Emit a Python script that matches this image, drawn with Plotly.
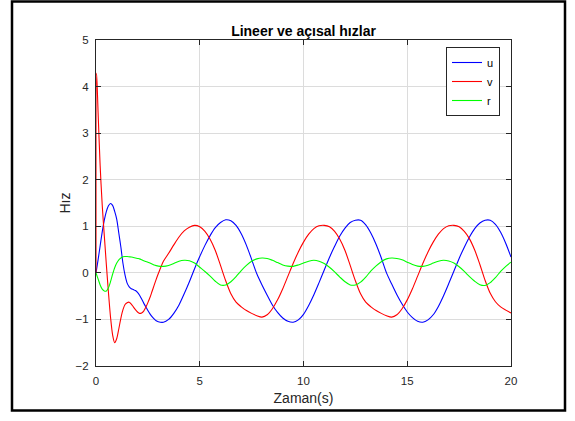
import plotly.graph_objects as go

# Simulation time (s)
time_s = [
    0, 0.03, 0.1, 0.2, 0.3, 0.4, 0.5, 0.6, 0.7, 0.8, 0.9, 1.0, 1.1, 1.2, 1.3, 1.4,
    1.5, 1.6, 1.7, 1.8, 1.9, 2.0, 2.1, 2.2, 2.3, 2.4, 2.5, 2.6, 2.7, 2.8, 2.9, 3.0,
    3.25, 3.5, 3.75, 4.0, 4.25, 4.5, 4.75, 5.0, 5.25, 5.5, 5.75, 6.0, 6.25, 6.5,
    6.75, 7.0, 7.25, 7.5, 7.75, 8.0, 8.25, 8.5, 8.75, 9.0, 9.25, 9.5, 9.75, 10.0,
    10.25, 10.5, 10.75, 11.0, 11.25, 11.5, 11.75, 12.0, 12.25, 12.5, 12.75, 13.0,
    13.25, 13.5, 13.75, 14.0, 14.25, 14.5, 14.75, 15.0, 15.25, 15.5, 15.75, 16.0,
    16.25, 16.5, 16.75, 17.0, 17.25, 17.5, 17.75, 18.0, 18.25, 18.5, 18.75, 19.0,
    19.25, 19.5, 19.75, 20.0,
]

# Surge velocity u
u_vals = [
    0, 0.08, 0.28, 0.58, 0.88, 1.13, 1.32, 1.44, 1.49, 1.45, 1.32, 1.15, 0.85, 0.55,
    0.20, -0.05, -0.22, -0.30, -0.34, -0.36, -0.38, -0.42, -0.48, -0.56, -0.65,
    -0.73, -0.81, -0.88, -0.94, -0.99, -1.03, -1.05,
    -1.06, -1.00, -0.87, -0.69, -0.45, -0.19, 0.09, 0.35, 0.59, 0.80, 0.97, 1.08,
    1.14, 1.12, 1.02, 0.84, 0.59, 0.29, -0.02, -0.26, -0.48, -0.69, -0.85, -0.97,
    -1.04, -1.06, -1.01, -0.89, -0.70, -0.47, -0.21, 0.06, 0.33, 0.57, 0.79, 0.96,
    1.08, 1.13, 1.13, 1.03, 0.85, 0.61, 0.32, 0.00, -0.24, -0.47, -0.67, -0.84,
    -0.96, -1.04, -1.06, -1.01, -0.90, -0.72, -0.49, -0.23, 0.04, 0.31, 0.55, 0.77,
    0.95, 1.07, 1.13, 1.13, 1.04, 0.87, 0.63, 0.34,
]

# Sway velocity v
v_vals = [
    0, 4.29, 3.45, 2.30, 1.45, 0.80, 0.17, -0.42, -0.95, -1.33, -1.50, -1.41, -1.20,
    -0.97, -0.79, -0.68, -0.64, -0.63, -0.67, -0.73, -0.79, -0.84, -0.87, -0.86,
    -0.82, -0.74, -0.64, -0.53, -0.40, -0.27, -0.14, -0.02,
    0.25, 0.42, 0.60, 0.77, 0.90, 0.98, 1.02, 0.99, 0.89, 0.72, 0.48, 0.16, -0.17,
    -0.45, -0.63, -0.73, -0.81, -0.87, -0.92, -0.95, -0.90, -0.77, -0.58, -0.34,
    -0.07, 0.20, 0.45, 0.66, 0.83, 0.95, 1.01, 1.02, 0.99, 0.89, 0.72, 0.48, 0.16,
    -0.17, -0.45, -0.63, -0.73, -0.81, -0.87, -0.92, -0.95, -0.90, -0.77, -0.58,
    -0.34, -0.07, 0.20, 0.45, 0.66, 0.83, 0.95, 1.01, 1.02, 0.99, 0.89, 0.73, 0.49,
    0.18, -0.16, -0.44, -0.62, -0.73, -0.80, -0.86,
]

# Yaw rate r
r_vals = [
    0, -0.04, -0.13, -0.26, -0.35, -0.39, -0.39, -0.32, -0.19, -0.03, 0.11, 0.21,
    0.28, 0.32, 0.345, 0.35, 0.35, 0.345, 0.34, 0.33, 0.32, 0.31, 0.30, 0.28, 0.26,
    0.245, 0.23, 0.21, 0.19, 0.17, 0.155, 0.145,
    0.14, 0.16, 0.20, 0.25, 0.27, 0.26, 0.21, 0.12, 0.03, -0.07, -0.18, -0.26,
    -0.26, -0.19, -0.08, 0.05, 0.16, 0.25, 0.30, 0.32, 0.31, 0.27, 0.22, 0.17,
    0.145, 0.14, 0.17, 0.21, 0.25, 0.27, 0.25, 0.20, 0.12, 0.02, -0.09, -0.19,
    -0.26, -0.26, -0.20, -0.09, 0.04, 0.15, 0.24, 0.30, 0.32, 0.31, 0.28, 0.23,
    0.18, 0.145, 0.14, 0.165, 0.21, 0.25, 0.27, 0.255, 0.21, 0.13, 0.03, -0.08,
    -0.18, -0.255, -0.27, -0.21, -0.10, 0.03, 0.14, 0.23,
]

x_ticks = [0, 5, 10, 15, 20]
y_ticks = [-2, -1, 0, 1, 2, 3, 4, 5]

series = [
    ("u", u_vals, "#0000ff"),
    ("v", v_vals, "#ff0000"),
    ("r", r_vals, "#00ff00"),
]

FONT = "Liberation Sans, Arial, Helvetica, sans-serif"
AXIS_COLOR = "#262626"

fig = go.Figure()
for name, vals, color in series:
    fig.add_trace(go.Scatter(
        x=time_s, y=vals, name=name, mode="lines",
        line=dict(color=color, width=1.1, shape="spline", smoothing=0.8),
    ))

axis_common = dict(
    showline=True, linecolor=AXIS_COLOR, linewidth=1, mirror="ticks",
    ticks="inside", ticklen=5, tickwidth=1, tickcolor=AXIS_COLOR,
    showgrid=True, gridcolor="#dcdcdc", gridwidth=1, zeroline=False,
    tickfont=dict(family=FONT, size=11.5, color=AXIS_COLOR),
)

fig.update_xaxes(
    range=[0, 20], tickvals=x_ticks, ticklabelstandoff=4,
    title=dict(text="Zaman(s)", font=dict(family=FONT, size=14, color=AXIS_COLOR), standoff=7),
    **axis_common,
)
fig.update_yaxes(
    range=[-2, 5], tickvals=y_ticks, ticklabelstandoff=4,
    title=dict(text="Hız", font=dict(family=FONT, size=14, color=AXIS_COLOR), standoff=1),
    **axis_common,
)

# Outer figure frame, in plot-area paper units
L, R, T, B = 96, 64, 40, 55
PW, PH = 575 - L - R, 421 - T - B
def px_x(p):
    return (p - L) / PW
def px_y(p):
    return (421 - B - p) / PH

fig.add_shape(
    type="rect", xref="paper", yref="paper",
    x0=px_x(12), x1=px_x(565), y0=px_y(410.5), y1=px_y(1.5),
    line=dict(color="#000000", width=2.5), fillcolor="rgba(0,0,0,0)", layer="above",
)

fig.update_layout(
    width=575, height=421,
    margin=dict(l=L, r=R, t=T, b=B),
    paper_bgcolor="white", plot_bgcolor="white",
    title=dict(
        text="<b>Lineer ve açısal hızlar</b>",
        font=dict(family=FONT, size=14, color="#000000"),
        x=0.5, xref="paper", xanchor="center",
        y=1 - 31 / 421, yref="container", yanchor="middle",
    ),
    legend=dict(
        x=px_x(500), y=px_y(47), xanchor="right", yanchor="top",
        bgcolor="white", bordercolor=AXIS_COLOR, borderwidth=1,
        font=dict(family=FONT, size=11, color="#000000"),
        tracegroupgap=0, itemwidth=30,
    ),
    showlegend=True,
)

fig.write_html("out.html")
